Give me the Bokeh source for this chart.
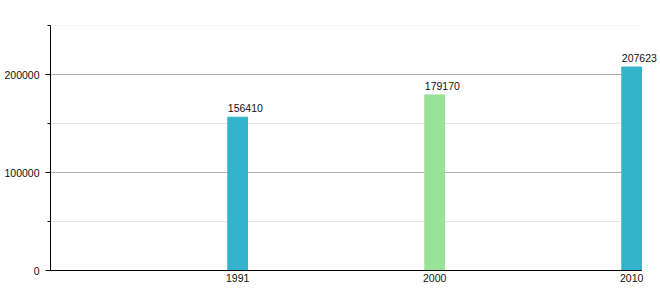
from bokeh.plotting import figure
from bokeh.models import Range1d, FixedTicker, ColumnDataSource
from bokeh.embed import file_html
from bokeh.resources import INLINE
from bokeh.core.properties import value

years = ["1991", "2000", "2010"]
populations = [156410, 179170, 207623]
colors = ["#33b3cc", "#99e399", "#33b3cc"]
y_major = [0, 100000, 200000]
y_minor = [50000, 150000, 250000]

n = len(years)
bar_w = 0.1
xs = [i + 1 - bar_w / 2 for i in range(n)]
lefts = [x - bar_w / 2 for x in xs]

src = ColumnDataSource(dict(x=xs, left=lefts, top=populations, color=colors,
                            label=[str(v) for v in populations]))

# frame spans 50..660 px; data 0..n spans 50..641 px
x_end = n * (660 - 50) / (641 - 50)

p = figure(width=660, height=300, output_backend="svg", toolbar_location=None,
           x_range=Range1d(0, x_end), y_range=Range1d(0, 250000),
           min_border_left=50, min_border_right=0, min_border_top=25,
           min_border_bottom=30)
p.outline_line_color = None
p.background_fill_color = "white"
p.border_fill_color = "white"

p.xgrid.grid_line_color = None
p.ygrid.grid_line_color = None

# horizontal grid lines limited to the category span
p.segment(x0=[0] * len(y_minor), x1=[n] * len(y_minor), y0=y_minor, y1=y_minor,
          line_color="#e6e6e6", line_width=1)
p.segment(x0=[0] * len(y_major), x1=[n] * len(y_major), y0=y_major, y1=y_major,
          line_color="#b0b0b0", line_width=1)

p.vbar(x="x", top="top", width=bar_w, color="color", source=src)
p.text(x="left", y="top", text="label", source=src, text_align="left",
       text_baseline="bottom", y_offset=-5, text_font_size="10.5px",
       text_font=value("Liberation Sans"), text_color="#111111")

p.yaxis.ticker = FixedTicker(ticks=y_major, minor_ticks=y_minor)
p.yaxis.major_tick_out = 5
p.yaxis.major_tick_in = 0
p.yaxis.minor_tick_out = 3
p.yaxis.minor_tick_in = 0
p.yaxis.axis_line_color = "black"
p.yaxis.major_tick_line_color = "black"
p.yaxis.minor_tick_line_color = "black"
p.yaxis.major_label_standoff = 6
p.yaxis.formatter.use_scientific = False

p.xaxis.ticker = FixedTicker(ticks=xs)
p.xaxis.major_label_overrides = {x: y for x, y in zip(xs, years)}
p.xaxis.bounds = (0, n)
p.xaxis.major_tick_out = 0
p.xaxis.major_tick_in = 0
p.xaxis.major_tick_line_color = None
p.xaxis.minor_tick_line_color = None
p.xaxis.axis_line_color = "black"
p.xaxis.major_label_standoff = 3

for ax in (p.xaxis, p.yaxis):
    ax.major_label_text_font = "Liberation Sans"
    ax.major_label_text_font_size = "10.5px"
    ax.major_label_text_color = "#111111"

open("out.html", "w").write(file_html(p, INLINE))
